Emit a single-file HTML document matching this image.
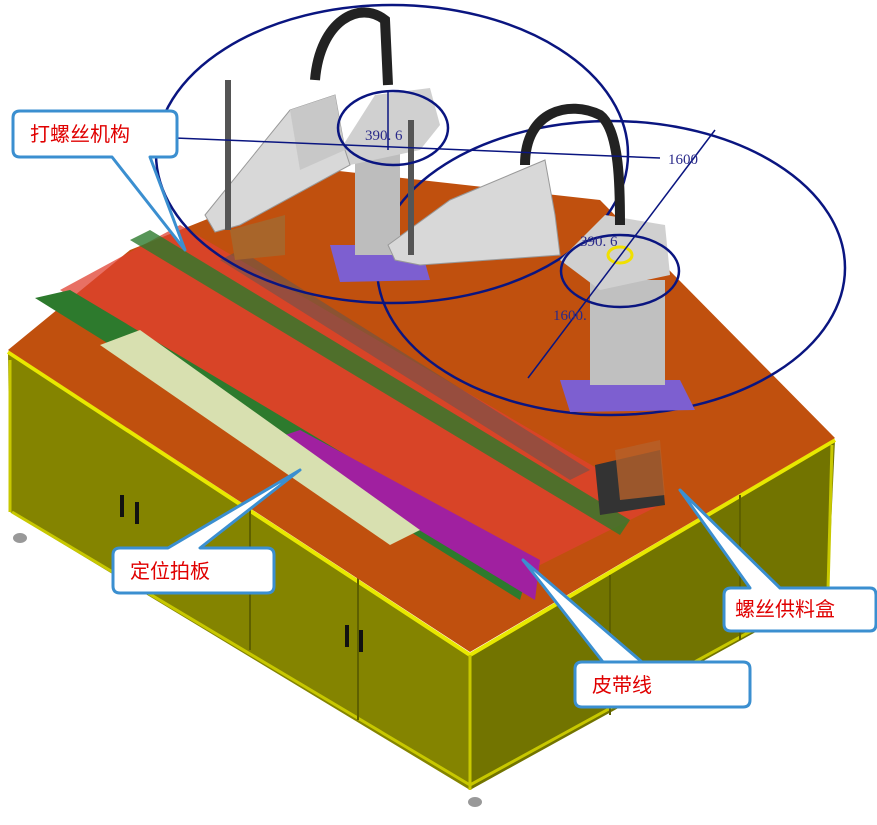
<!DOCTYPE html>
<html><head><meta charset="utf-8"><style>
html,body{margin:0;padding:0;background:#fff;}
svg{display:block;}
.t{font-family:"Liberation Sans","Noto Sans CJK SC",sans-serif;font-size:20px;fill:#e00000;}
.d{font-family:"Liberation Serif",serif;font-size:15px;fill:#2a2a8a;}
</style></head><body>
<svg width="877" height="825" viewBox="0 0 877 825" xmlns="http://www.w3.org/2000/svg">
<!-- cabinet -->
<polygon points="8,352 470,655 470,790 10,512" fill="#848400"/>
<polygon points="470,655 835,440 828,592 470,790" fill="#727400"/>
<polyline points="8,352 470,655 835,440" fill="none" stroke="#e8e800" stroke-width="4"/>
<polyline points="12,512 470,785 826,590" fill="none" stroke="#c8c800" stroke-width="3"/>
<line x1="10" y1="360" x2="10" y2="512" stroke="#c8c800" stroke-width="3"/>
<line x1="470" y1="655" x2="470" y2="790" stroke="#c8c800" stroke-width="3"/>
<line x1="832" y1="445" x2="828" y2="590" stroke="#c8c800" stroke-width="3"/>
<line x1="250" y1="505" x2="250" y2="650" stroke="#5e6000" stroke-width="2"/>
<line x1="358" y1="575" x2="358" y2="720" stroke="#5e6000" stroke-width="2"/>
<line x1="610" y1="575" x2="610" y2="715" stroke="#5e6000" stroke-width="2"/>
<line x1="740" y1="495" x2="740" y2="640" stroke="#5e6000" stroke-width="2"/>
<rect x="120" y="495" width="4" height="22" fill="#111"/><rect x="135" y="502" width="4" height="22" fill="#111"/>
<rect x="345" y="625" width="4" height="22" fill="#111"/><rect x="359" y="630" width="4" height="22" fill="#111"/>
<ellipse cx="20" cy="538" rx="7" ry="5" fill="#999"/><ellipse cx="475" cy="802" rx="7" ry="5" fill="#999"/>
<!-- top -->
<polygon points="8,350 130,250 330,170 600,200 835,438 470,652" fill="#c0500e"/>
<!-- red translucent work area -->
<polygon points="60,290 180,225 660,505 530,570" fill="#e04030" opacity="0.75"/>
<polygon points="35,298 70,290 530,565 520,600" fill="#2d7a2d"/>
<polygon points="270,440 300,430 540,560 535,600" fill="#a020a0"/>
<polygon points="100,345 140,330 420,530 390,545" fill="#d8e0b0"/>
<polygon points="130,240 150,230 630,520 620,535" fill="#2d7a2d" opacity="0.8"/>
<polygon points="220,260 240,250 590,470 570,480" fill="#555" opacity="0.5"/>
<!-- screw feeder -->
<polygon points="595,465 660,450 665,505 600,515" fill="#333"/>
<polygon points="615,450 660,440 665,495 620,500" fill="#b5602a" opacity="0.8"/>
<!-- ellipses -->
<g fill="none" stroke="#0a1580" stroke-width="2.5">
<ellipse cx="392" cy="154" rx="236" ry="149"/>
<ellipse cx="611" cy="268" rx="234" ry="147"/>
</g>
<!-- robot 1 -->
<polygon points="330,245 420,245 430,280 340,282" fill="#7d5fd0"/>
<polygon points="355,150 400,150 400,255 355,255" fill="#bdbdbd"/>
<polygon points="375,95 430,88 440,125 420,150 350,165 340,150" fill="#d0d0d0"/>
<polygon points="205,215 290,110 335,95 345,150 350,165 240,225 215,232" fill="#d8d8d8" stroke="#999"/>
<polygon points="290,110 335,95 345,150 300,170" fill="#c8c8c8"/>
<rect x="225" y="80" width="6" height="150" fill="#555"/>
<path d="M315,80 C320,20 360,0 385,20 L388,85" fill="none" stroke="#222" stroke-width="10"/>
<polygon points="230,230 285,215 285,255 235,260" fill="#a8652a"/>
<!-- robot 2 -->
<polygon points="560,380 680,380 695,410 570,412" fill="#7d5fd0"/>
<polygon points="590,280 665,280 665,385 590,385" fill="#c0c0c0"/>
<polygon points="605,215 665,225 670,275 600,290 560,260" fill="#d0d0d0"/>
<polygon points="388,245 450,200 545,160 555,215 560,255 420,265 395,260" fill="#d8d8d8" stroke="#999"/>
<rect x="408" y="120" width="6" height="135" fill="#555"/>
<path d="M525,165 C525,110 570,100 600,115 C620,130 620,190 620,225" fill="none" stroke="#222" stroke-width="10"/>
<g fill="none" stroke="#0a1580" stroke-width="2.5">
<ellipse cx="393" cy="128" rx="55" ry="37"/>
<ellipse cx="620" cy="271" rx="59" ry="36"/>
</g>
<ellipse cx="620" cy="255" rx="12" ry="8" fill="none" stroke="#f0e000" stroke-width="3"/>
<line x1="175" y1="138" x2="660" y2="158" stroke="#0a1580" stroke-width="1.5"/>
<line x1="715" y1="130" x2="528" y2="378" stroke="#0a1580" stroke-width="1.5"/>
<line x1="388" y1="92" x2="388" y2="150" stroke="#0a1580" stroke-width="1.5"/>
<text x="365" y="140" class="d">390. 6</text>
<text x="580" y="246" class="d">390. 6</text>
<text x="668" y="164" class="d">1600</text>
<text x="553" y="320" class="d">1600.</text>
<!-- callouts -->
<g fill="#fff" stroke="#3b8fd0" stroke-width="3" stroke-linejoin="round">
<path d="M20,111 H170 Q177,111 177,118 V150 Q177,157 170,157 H150 L185,250 L112,157 H20 Q13,157 13,150 V118 Q13,111 20,111 Z"/>
<path d="M120,548 H168 L300,470 L200,548 H267 Q274,548 274,555 V586 Q274,593 267,593 H120 Q113,593 113,586 V555 Q113,548 120,548 Z"/>
<path d="M582,662 H642 L523,560 L603,662 H743 Q750,662 750,669 V700 Q750,707 743,707 H582 Q575,707 575,700 V669 Q575,662 582,662 Z"/>
<path d="M731,588 H750 L680,490 L780,588 H870 Q876,588 876,595 V624 Q876,631 870,631 H731 Q724,631 724,624 V595 Q724,588 731,588 Z"/>
</g>
<text x="30" y="141" class="t">打螺丝机构</text>
<text x="130" y="578" class="t">定位拍板</text>
<text x="592" y="692" class="t">皮带线</text>
<text x="735" y="616" class="t">螺丝供料盒</text>
</svg>
</body></html>
